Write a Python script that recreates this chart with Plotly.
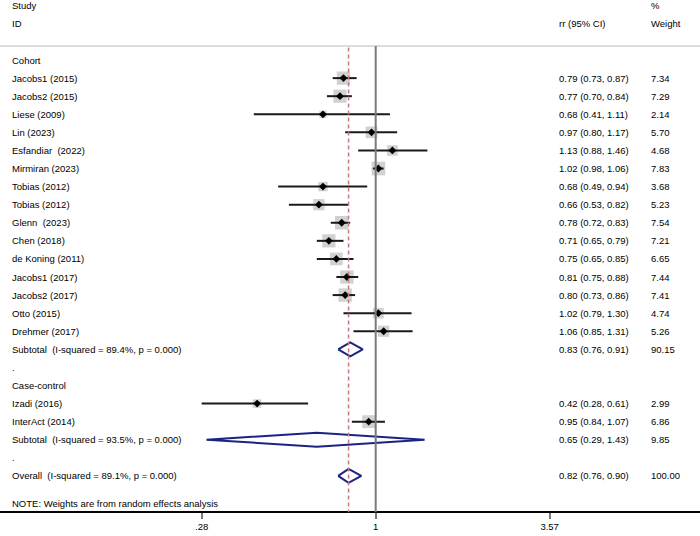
import math
import plotly.graph_objects as go

NB = "\u00a0"

# study rows
studies = ["Jacobs1 (2015)", "Jacobs2 (2015)", "Liese (2009)", "Lin (2023)", "Esfandiar" + NB + " (2022)",
           "Mirmiran (2023)", "Tobias (2012)", "Tobias (2012)", "Glenn" + NB + " (2023)", "Chen (2018)",
           "de Koning (2011)", "Jacobs1 (2017)", "Jacobs2 (2017)", "Otto (2015)", "Drehmer (2017)",
           "Izadi (2016)", "InterAct (2014)"]
study_rows = [4, 5, 6, 7, 8, 9, 10, 11, 12, 13, 14, 15, 16, 17, 18, 22, 23]
rr = [0.79, 0.77, 0.68, 0.97, 1.13, 1.02, 0.68, 0.66, 0.78, 0.71, 0.75, 0.81, 0.80, 1.02, 1.06, 0.42, 0.95]
lo = [0.73, 0.70, 0.41, 0.80, 0.88, 0.98, 0.49, 0.53, 0.72, 0.65, 0.65, 0.75, 0.73, 0.79, 0.85, 0.28, 0.84]
hi = [0.87, 0.84, 1.11, 1.17, 1.46, 1.06, 0.94, 0.82, 0.83, 0.79, 0.85, 0.88, 0.86, 1.30, 1.31, 0.61, 1.07]
weight = [7.34, 7.29, 2.14, 5.70, 4.68, 7.83, 3.68, 5.23, 7.54, 7.21, 6.65, 7.44, 7.41, 4.74, 5.26, 2.99, 6.86]

# pooled rows
pooled = ["Subtotal" + NB + " (I-squared = 89.4%, p = 0.000)",
          "Subtotal" + NB + " (I-squared = 93.5%, p = 0.000)",
          "Overall" + NB + " (I-squared = 89.1%, p = 0.000)"]
pooled_rows = [19, 24, 26]
pooled_rr = [0.83, 0.65, 0.82]
pooled_lo = [0.76, 0.29, 0.76]
pooled_hi = [0.91, 1.43, 0.90]
pooled_w = [90.15, 9.85, 100.00]

# other label rows
labels = ["Cohort", ".", "Case-control", "."]
label_rows = [3, 20, 21, 25]

tick_vals = [0.28, 1, 3.57]
tick_text = [".28", "1", "3.57"]

FONT = "Liberation Sans, Arial, sans-serif"
FS = 9.5
TXT = "#000000"

# pixel y = 5.8 + 18.08*row
def row_of(py):
    return (py - 5.8) / 18.08

fig = go.Figure()

# grey weight boxes
fig.add_trace(go.Scatter(
    x=rr, y=study_rows, mode="markers",
    marker=dict(symbol="square", size=[4.9 * math.sqrt(w) for w in weight], color="#bdbdbd",
                line=dict(width=0)),
    hoverinfo="skip"))

# CI lines
cx, cy = [], []
for a, b, r in zip(lo, hi, study_rows):
    cx += [a, b, None]
    cy += [r, r, None]
fig.add_trace(go.Scatter(x=cx, y=cy, mode="lines", line=dict(color="#1a1a1a", width=2), hoverinfo="skip"))

# point estimates
fig.add_trace(go.Scatter(x=rr, y=study_rows, mode="markers",
                         marker=dict(symbol="diamond", size=6, color="#000000"), hoverinfo="skip"))

# pooled diamonds
h = 7 / 18.08
dx, dy = [], []
for e, a, b, r in zip(pooled_rr, pooled_lo, pooled_hi, pooled_rows):
    dx += [a, e, b, e, a, None]
    dy += [r, r - h, r, r + h, r, None]
fig.add_trace(go.Scatter(x=dx, y=dy, mode="lines", line=dict(color="#1c2380", width=2), hoverinfo="skip"))

top = row_of(46)
bottom = row_of(512.3)

fig.add_shape(type="line", xref="paper", yref="y", x0=0, x1=1, y0=top, y1=top,
              line=dict(color="#dcdcdc", width=2))
fig.add_shape(type="line", xref="x", yref="y", x0=1, x1=1, y0=top, y1=bottom,
              line=dict(color="#7a7a7a", width=2))
fig.add_shape(type="line", xref="x", yref="y", x0=pooled_rr[2], x1=pooled_rr[2], y0=row_of(47.5), y1=bottom,
              line=dict(color="#c97882", width=1.5, dash="4px,3px"))

def txt(x, row, s):
    fig.add_annotation(x=x, y=row, xref="paper", yref="y", text=s, showarrow=False,
                       xanchor="left", yanchor="middle", font=dict(family=FONT, size=FS, color=TXT))

xl, xr, xw = 10.3 / 700, 557 / 700, 649.3 / 700
txt(xl, 0, "Study")
txt(xl, 0.97, "ID")
txt(xr, 0.97, "rr (95% CI)")
txt(xw, 0, "%")
txt(xw, 0.97, "Weight")

for s, r in zip(labels, label_rows):
    txt(xl, r, s)
for s, r, e, a, b, w in zip(studies, study_rows, rr, lo, hi, weight):
    txt(xl, r, s)
    txt(xr, r, "%.2f (%.2f, %.2f)" % (e, a, b))
    txt(xw, r, "%.2f" % w)
for s, r, e, a, b, w in zip(pooled, pooled_rows, pooled_rr, pooled_lo, pooled_hi, pooled_w):
    txt(xl, r, s)
    txt(xr, r, "%.2f (%.2f, %.2f)" % (e, a, b))
    txt(xw, r, "%.2f" % w)
txt(xl, row_of(503.3), "NOTE: Weights are from random effects analysis")

fig.update_layout(
    width=700, height=536,
    margin=dict(l=0, r=0, t=0, b=0),
    paper_bgcolor="white", plot_bgcolor="white",
    showlegend=False,
    xaxis=dict(type="log", range=[-1.1935, 1.0303], domain=[0, 1],
               anchor="free", position=1 - 512.3 / 536,
               showgrid=False, zeroline=False,
               showline=True, linecolor="#000000", linewidth=1.5,
               ticks="outside", ticklen=6, tickwidth=1.5, tickcolor="#7a7a7a",
               tickvals=tick_vals, ticktext=tick_text,
               tickfont=dict(family=FONT, size=FS, color=TXT)),
    yaxis=dict(range=[row_of(536), row_of(0)], visible=False, domain=[0, 1]),
)

# drop the page's default body margin so the figure sits at the window's corner
fig.write_html("out.html", config={"displayModeBar": False},
               post_script="document.body.style.margin='0';")
